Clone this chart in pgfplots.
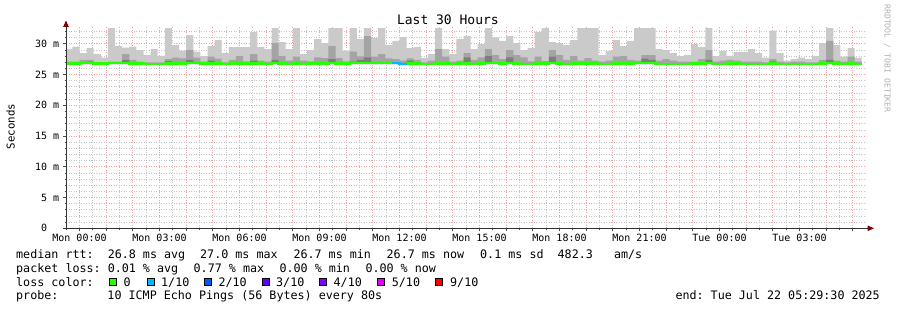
\documentclass[border=0pt]{standalone}
\usepackage{fontspec}
\setmonofont{DejaVu Sans Mono}
\usepackage{pgfplots}
\pgfplotsset{compat=1.18}
\usepgfplotslibrary{fillbetween}
\usepackage{pgfplotstable}
\definecolor{smokeL}{HTML}{CACACA}
\definecolor{smokeM}{HTML}{A4A4A4}
\definecolor{smokeD}{HTML}{7E7E7E}
\definecolor{lc0}{HTML}{26FF00}
\definecolor{lc1}{HTML}{00B8FF}
\definecolor{lc2}{HTML}{0059FF}
\definecolor{lc3}{HTML}{5E00FF}
\definecolor{lc4}{HTML}{7E00FF}
\definecolor{lc5}{HTML}{DD00FF}
\definecolor{lc9}{HTML}{FF0000}
\definecolor{gridc}{HTML}{C4C4C4}
\definecolor{mgridc}{HTML}{F0A0A0}
\definecolor{arrowc}{HTML}{7F0000}

\pgfplotstableread{
x L M D med lo
-0.5333 29.15 27.09 26.70 26.80 26.70
-0.2667 29.53 27.09 26.70 26.80 26.70
0.0000 28.50 27.37 26.90 26.85 26.70
0.2667 29.32 27.37 27.09 26.85 26.70
0.5333 28.34 26.99 26.70 26.80 26.70
0.8000 27.75 26.99 26.70 26.78 26.70
1.0667 32.57 27.09 26.70 26.85 26.70
1.3333 29.64 27.09 26.70 26.85 26.70
1.6000 29.37 28.34 27.37 26.85 26.70
1.8667 29.53 27.37 26.70 26.80 26.70
2.1333 28.99 27.09 26.70 26.78 26.70
2.4000 28.18 26.99 26.70 26.75 26.70
2.6667 29.15 26.99 26.70 26.75 26.70
2.9333 28.02 26.99 26.70 26.75 26.70
3.2000 32.57 27.53 27.20 26.80 26.70
3.4667 29.80 27.75 26.70 26.80 26.70
3.7333 28.88 27.64 26.70 26.80 26.70
4.0000 31.43 28.99 27.37 26.90 26.70
4.2667 28.72 27.75 26.70 26.85 26.70
4.5333 28.02 27.09 26.70 26.78 26.70
4.8000 29.64 27.91 27.26 26.80 26.70
5.0667 30.62 27.58 26.70 26.80 26.70
5.3333 28.50 26.99 26.70 26.75 26.70
5.6000 29.48 27.37 26.70 26.80 26.70
5.8667 29.48 28.02 26.70 26.80 26.70
6.1333 29.48 27.15 26.70 26.78 26.70
6.4000 31.92 28.34 27.26 26.80 26.70
6.6667 29.48 27.26 26.70 26.80 26.70
6.9333 29.15 27.09 26.70 26.75 26.70
7.2000 32.57 30.13 27.37 26.90 26.70
7.4667 30.29 28.02 26.70 26.80 26.70
7.7333 29.15 27.26 26.70 26.75 26.70
8.0000 32.57 27.91 26.70 26.80 26.70
8.2667 28.34 27.26 26.70 26.75 26.70
8.5333 28.99 27.15 26.70 26.78 26.70
8.8000 30.78 27.80 26.70 26.80 26.70
9.0667 30.13 27.69 26.70 26.80 26.70
9.3333 32.57 29.64 27.53 26.85 26.70
9.6000 32.57 27.69 26.70 26.80 26.70
9.8667 28.88 27.15 26.70 26.80 26.70
10.1333 32.57 28.72 27.09 26.85 26.70
10.4000 30.78 27.96 27.37 26.85 26.70
10.6667 32.57 31.27 27.80 26.90 26.70
10.9333 30.94 27.91 26.70 26.85 26.70
11.2000 32.57 28.34 26.70 26.85 26.70
11.4667 29.80 27.64 26.70 26.85 26.70
11.7333 30.46 27.53 26.70 26.85 26.70
12.0000 31.11 27.26 26.70 26.72 26.70
12.2667 29.32 27.64 27.26 26.80 26.70
12.5333 29.48 27.37 26.70 26.80 26.70
12.8000 27.69 26.99 26.70 26.75 26.70
13.0667 28.34 27.26 26.70 26.72 26.70
13.3333 32.57 29.15 26.70 26.80 26.70
13.6000 29.15 27.91 26.70 26.80 26.70
13.8667 28.34 27.09 26.70 26.75 26.70
14.1333 30.78 27.26 26.70 26.80 26.70
14.4000 31.27 28.50 27.80 26.80 26.70
14.6667 29.15 27.37 26.70 26.72 26.70
14.9333 29.97 27.80 26.70 26.80 26.70
15.2000 32.57 29.15 28.02 26.85 26.70
15.4667 31.05 28.18 26.70 26.85 26.70
15.7333 30.46 27.53 26.70 26.80 26.70
16.0000 31.27 28.99 27.80 26.85 26.70
16.2667 30.13 28.18 26.70 26.80 26.70
16.5333 28.99 27.80 26.70 26.75 26.70
16.8000 29.32 27.15 26.70 26.75 26.70
17.0667 31.92 27.91 26.70 26.80 26.70
17.3333 32.57 27.20 26.70 26.80 26.70
17.6000 30.29 28.99 27.91 26.85 26.70
17.8667 30.13 28.18 26.70 26.80 26.70
18.1333 29.80 27.37 26.70 26.75 26.70
18.4000 30.62 28.02 26.70 26.80 26.70
18.6667 32.57 27.26 26.70 26.80 26.70
18.9333 32.57 27.69 26.70 26.80 26.70
19.2000 32.57 27.26 26.70 26.80 26.70
19.4667 28.18 27.09 26.70 26.72 26.70
19.7333 28.83 27.26 26.70 26.75 26.70
20.0000 30.62 27.91 26.70 26.80 26.70
20.2667 29.64 28.02 26.70 26.80 26.70
20.5333 30.46 27.37 26.70 26.80 26.70
20.8000 32.57 27.26 26.70 26.85 26.70
21.0667 32.57 28.18 27.58 26.85 26.70
21.3333 32.57 28.18 27.37 26.85 26.70
21.6000 29.15 27.26 26.70 26.75 26.70
21.8667 28.99 27.53 26.70 26.75 26.70
22.1333 28.50 27.26 26.70 26.75 26.70
22.4000 28.02 27.09 26.70 26.75 26.70
22.6667 28.18 27.09 26.70 26.72 26.70
22.9333 29.97 27.09 26.70 26.80 26.70
23.2000 29.48 27.53 26.70 26.80 26.70
23.4667 32.57 28.99 27.37 26.85 26.70
23.7333 28.02 27.09 26.70 26.75 26.70
24.0000 28.83 27.26 26.70 26.75 26.70
24.2667 28.02 27.37 26.70 26.80 26.70
24.5333 28.67 27.26 26.70 26.80 26.70
24.8000 28.67 27.09 26.70 26.75 26.70
25.0667 29.15 27.09 26.70 26.75 26.70
25.3333 28.50 27.09 26.70 26.75 26.70
25.6000 27.75 26.99 26.70 26.72 26.70
25.8667 32.13 27.53 27.15 26.80 26.70
26.1333 28.50 27.09 26.70 26.75 26.70
26.4000 27.26 26.99 26.70 26.72 26.70
26.6667 27.53 27.09 26.70 26.75 26.70
26.9333 27.75 27.09 26.70 26.75 26.70
27.2000 27.53 26.99 26.70 26.72 26.70
27.4667 28.02 26.99 26.70 26.72 26.70
27.7333 30.13 27.37 26.70 26.80 26.70
28.0000 32.57 30.46 27.37 26.85 26.70
28.2667 29.80 27.26 26.70 26.80 26.70
28.5333 27.91 27.09 26.70 26.75 26.70
28.8000 29.32 27.91 26.70 26.80 26.70
29.0667 27.75 27.09 26.70 26.75 26.70
29.3333 27.75 27.09 26.70 26.75 26.70
}\smoke

\begin{document}
\frenchspacing
\begin{tikzpicture}
\path (0bp,0bp) rectangle (897bp,310bp);
\begin{axis}[
  at={(66bp,81.7bp)}, anchor=south west,
  scale only axis, width=800bp, height=202.3bp,
  xmin=-0.50625, xmax=29.49375, ymin=0, ymax=32.9,
  axis line style={draw=none},
  tick pos=left, tick align=outside,
  major tick length=3bp, minor tick length=1.5bp,
  tick style={black!70, line width=0.8bp},
  xtick={0,1,...,29},
  xticklabels={Mon 00:00,,,Mon 03:00,,,Mon 06:00,,,Mon 09:00,,,Mon 12:00,,,Mon 15:00,,,Mon 18:00,,,Mon 21:00,,,Tue 00:00,,,Tue 03:00,,},
  minor xtick={-0.5,0.5,...,28.5},
  ytick={0,5,...,30},
  yticklabels={0\hphantom{~m},5 m,10 m,15 m,20 m,25 m,30 m},
  minor ytick={1,2,3,4,6,7,8,9,11,12,13,14,16,17,18,19,21,22,23,24,26,27,28,29,31,32},
  grid=both,
  major grid style={draw=mgridc, dash pattern=on 1bp off 1.5bp, line width=0.8bp},
  minor grid style={draw=gridc, dash pattern=on 1bp off 1.5bp, line width=0.8bp},
  tick label style={font=\fontsize{10bp}{12bp}\selectfont\ttfamily, text=black},
  xticklabel style={anchor=north, inner sep=0pt, yshift=-2.4bp},
  yticklabel style={anchor=east, inner sep=0pt, xshift=-3.7bp},
]
\addplot[name path=lo, draw=none, const plot, forget plot] table[x=x,y=lo]{\smoke};
\addplot[name path=pL, draw=none, const plot, forget plot] table[x=x,y=L]{\smoke};
\addplot[name path=pM, draw=none, const plot, forget plot] table[x=x,y=M]{\smoke};
\addplot[name path=pD, draw=none, const plot, forget plot] table[x=x,y=D]{\smoke};
\addplot[fill=smokeL, draw=none, forget plot] fill between[of=pL and lo];
\addplot[fill=smokeM, draw=none, forget plot] fill between[of=pM and lo];
\addplot[fill=smokeD, draw=none, forget plot] fill between[of=pD and lo];
\addplot[const plot, draw=lc0, line width=2.6bp, forget plot] table[x=x,y=med]{\smoke};
\addplot[const plot, draw=lc1, line width=2.6bp, forget plot] coordinates {(11.7333,26.85) (12.0,26.72) (12.2667,26.72)};
\end{axis}
\begin{scope}[x=1bp,y=1bp]
% axes
\draw[black!80, line width=1bp] (63,81.7) -- (868,81.7);
\fill[arrowc] (874,81.7) -- (867.5,84.6) -- (867.5,78.8) -- cycle;
\draw[black!80, line width=1bp] (66,81.7) -- (66,284);
\fill[arrowc] (66,289.5) -- (63.1,283) -- (68.9,283) -- cycle;
% texts
\node[font=\fontsize{13bp}{15bp}\selectfont\ttfamily, anchor=base, inner sep=0pt] at (447.9,286) {Last 30 Hours};
\node[font=\fontsize{10.8bp}{13bp}\selectfont\ttfamily, rotate=90, anchor=base, inner sep=0pt] at (14.5,183.5) {Seconds};
\node[font=\fontsize{8.2bp}{10bp}\selectfont\ttfamily, text=black!30, rotate=-90, anchor=base, inner sep=0pt] at (884.5,251.5) {RRDTOOL / TOBI OETIKER};
\tikzset{leg/.style={font=\fontsize{11.7bp}{14bp}\selectfont\ttfamily, anchor=base west, inner sep=0pt}}
\node[leg] at (16,51.3) {median rtt:~~26.8 ms avg};
\node[leg] at (200,51.3) {27.0 ms max};
\node[leg] at (293.3,51.3) {26.7 ms min};
\node[leg] at (386.5,51.3) {26.7 ms now};
\node[leg] at (480,51.3) {0.1 ms sd};
\node[leg] at (557.5,51.3) {482.3~~~am/s};
\node[leg] at (16,37.6) {packet loss: 0.01 \% avg};
\node[leg] at (193.5,37.6) {0.77 \% max};
\node[leg] at (279.4,37.6) {0.00 \% min};
\node[leg] at (365.3,37.6) {0.00 \% now};
\node[leg] at (16,23.9) {loss color:};
\foreach \bx/\c in {109/lc0, 147/lc1, 204/lc2, 262/lc3, 319.5/lc4, 377.5/lc5, 435.5/lc9}{
  \filldraw[fill=\c, draw=black, line width=0.8bp] (\bx,24.7) rectangle ++(7,7.3);
}
\node[leg] at (123.5,23.9) {0};
\node[leg] at (161,23.9) {1/10};
\node[leg] at (218.3,23.9) {2/10};
\node[leg] at (276,23.9) {3/10};
\node[leg] at (333.5,23.9) {4/10};
\node[leg] at (391.7,23.9) {5/10};
\node[leg] at (450,23.9) {9/10};
\node[leg] at (16,10.2) {probe:};
\node[leg] at (107.3,10.2) {10 ICMP Echo Pings (56 Bytes) every 80s};
\node[leg, anchor=base east] at (880,10.2) {end: Tue Jul 22 05:29:30 2025};
\end{scope}
\end{tikzpicture}
\end{document}
